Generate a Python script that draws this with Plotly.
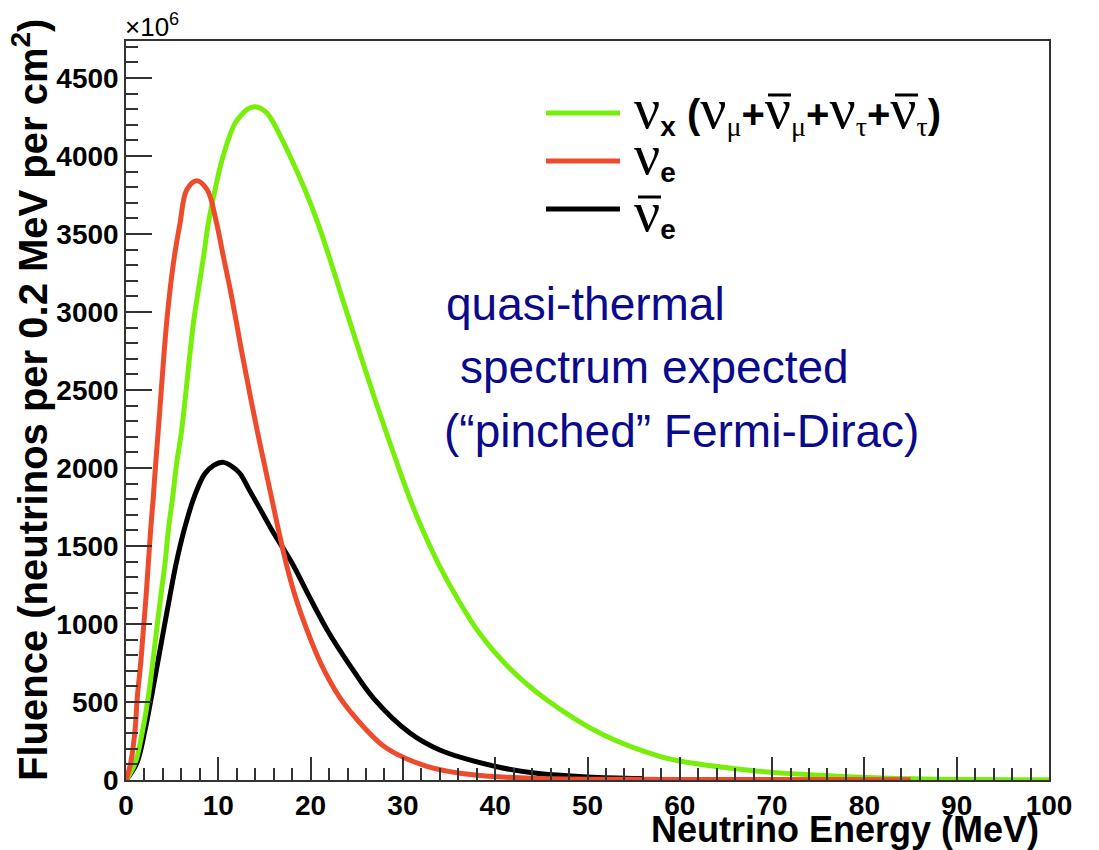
import plotly.graph_objects as go

# Fluence spectra (x10^6 neutrinos per 0.2 MeV per cm^2) versus neutrino energy (MeV)
nux_energy = [0, 0.98, 1.81, 2.42, 2.89, 3.32, 3.76, 4.23, 4.59, 5.06, 5.49, 6.03,
              7.3, 7.84, 8.4, 8.92, 9.64, 10.5, 11.8, 12.5, 13.2, 14.0, 15.2, 16.0,
              17.8, 19.4, 20.8, 22.0, 23.15, 24.3, 27.0, 29.5, 30.8, 32.3, 34.0,
              36.0, 38.3, 41.4, 45.6, 51.7, 57.9, 60.0, 68.0, 74.0, 78.8, 85.0,
              92.0, 100.0]
nux_fluence = [0, 107, 321, 534, 748, 962, 1175, 1389, 1603, 1816, 2030, 2244,
               2927, 3141, 3355, 3568, 3782, 3995, 4209, 4263, 4302, 4316, 4280, 4209,
               3995, 3782, 3568, 3355, 3141, 2927, 2436, 2008, 1795, 1581, 1368,
               1154, 940, 726, 513, 290, 150, 122, 60, 34, 20, 8,
               3, 1]

nue_energy = [0, 0.5, 0.98, 1.23, 1.59, 1.88, 2.17, 2.42, 2.67, 2.96, 3.22, 3.5,
              4.15, 4.4, 4.77, 5.24, 5.85, 6.57, 7.66, 8.81, 9.82, 10.55, 11.3,
              11.98, 12.5, 14.2, 15.75, 16.52, 17.35, 18.35, 19.6, 21.1, 23.1, 24.5,
              25.9, 28.2, 32.6, 37.6, 45.0, 60.0, 85.0]
nue_fluence = [0, 107, 321, 534, 748, 962, 1175, 1389, 1603, 1816, 2030, 2244,
               2756, 2929, 3141, 3355, 3568, 3782, 3842, 3782, 3568, 3355, 3141,
               2927, 2756, 2244, 1816, 1603, 1389, 1175, 962, 748, 534, 425,
               330, 205, 88, 33, 10, 4, 1]

anue_energy = [0, 1.16, 2.06, 2.76, 3.42, 4.08, 4.74, 5.44, 6.3, 7.4, 8.5, 9.5,
               10.55, 11.6, 12.35, 13.4, 14.6, 15.8, 18.0, 19.86, 21.8, 24.2, 26.8,
               30.8, 34.0, 40.2, 44.5, 50.0, 56.0]
anue_fluence = [0, 107, 321, 534, 748, 962, 1175, 1389, 1603, 1816, 1960, 2017,
                2036, 2005, 1965, 1855, 1730, 1603, 1389, 1175, 962, 740, 525,
                299, 192, 85, 43, 20, 10]

x_range = [0, 100]
y_range = [0, 4737]

GREEN = "#78EE0C"
RED = "#EE4A2C"
BLACK = "#000000"
AXIS = "#333333"
NAVY = "#0A0A8C"
SANS = "Liberation Sans, Arial, Helvetica, sans-serif"

# plot-area geometry (pixels)
W, H = 1099, 850
L, R, T, B = 126, 50, 41, 70
PW, PH = W - L - R, H - T - B


def px(x):
    return (x - L) / PW


def py(y):
    return (H - B - y) / PH


fig = go.Figure()
for e, f, c in [(anue_energy, anue_fluence, BLACK),
                (nux_energy, nux_fluence, GREEN),
                (nue_energy, nue_fluence, RED)]:
    fig.add_trace(go.Scatter(x=e, y=f, mode="lines",
                             line=dict(color=c, width=5, shape="spline", smoothing=1.0),
                             showlegend=False, hoverinfo="skip"))

fig.update_layout(
    width=W, height=H,
    margin=dict(l=L, r=R, t=T, b=B, pad=0),
    paper_bgcolor="white", plot_bgcolor="white",
    font=dict(family=SANS, color="black"),
)

fig.update_xaxes(
    range=x_range, showgrid=False, zeroline=False,
    showline=True, linecolor=AXIS, linewidth=1.5, mirror=True,
    ticks="inside", ticklen=23, tickwidth=1.5, tickcolor=AXIS,
    tick0=0, dtick=10,
    tickfont=dict(family=SANS, size=28, color="black", weight="bold"),
    minor=dict(ticks="inside", ticklen=12, tickwidth=1.5, tickcolor=AXIS, dtick=2),
)
fig.update_yaxes(
    range=y_range, showgrid=False, zeroline=False,
    showline=True, linecolor=AXIS, linewidth=1.5, mirror=True,
    ticks="inside", ticklen=26, tickwidth=1.5, tickcolor=AXIS,
    tick0=0, dtick=500,
    tickfont=dict(family=SANS, size=28, color="black", weight="bold"),
    minor=dict(ticks="inside", ticklen=12, tickwidth=1.5, tickcolor=AXIS, dtick=100),
)

ann = []
# axis titles
ann.append(dict(text="Neutrino Energy (MeV)", xref="paper", yref="paper",
                x=px(1041), y=py(829), xanchor="right", yanchor="middle",
                showarrow=False, font=dict(family=SANS, size=36, weight="bold")))
ann.append(dict(text="Fluence (neutrinos per 0.2 MeV per cm<sup>2</sup>)",
                xref="paper", yref="paper", x=px(30), y=py(400),
                xanchor="center", yanchor="middle", textangle=-90,
                showarrow=False, font=dict(family=SANS, size=40, weight="bold")))
ann.append(dict(text="×10<sup>6</sup>", xref="paper", yref="paper",
                x=px(123), y=py(26), xanchor="left", yanchor="middle",
                showarrow=False, font=dict(family=SANS, size=26)))

# legend: sample line, label, and the bars over the antineutrino symbols
SERIF_SPAN = "font-family:Liberation Serif, Times New Roman, serif;font-weight:normal"
NU = f'<span style="{SERIF_SPAN};font-size:58px">ν</span>'
MU = f'<sub><span style="{SERIF_SPAN}">μ</span></sub>'
TAU = f'<sub><span style="{SERIF_SPAN}">τ</span></sub>'
# (colour, label, sample-line y, label centre y, bar y, bar spans)
legend_rows = [
    (GREEN, NU + "<sub>x</sub> (" + NU + MU + "+" + NU + MU + "+" + NU + TAU + "+" + NU + TAU + ")",
     113, 109, 95, [(768, 791), (895, 918)]),
    (RED, NU + "<sub>e</sub>", 161, 155, None, []),
    (BLACK, NU + "<sub>e</sub>", 209, 212, 197, [(638, 661)]),
]
shapes = []
for color, label, yline, ytext, ybar, bars in legend_rows:
    shapes.append(dict(type="line", xref="paper", yref="paper",
                       x0=px(546), x1=px(620), y0=py(yline), y1=py(yline),
                       line=dict(color=color, width=5)))
    ann.append(dict(text=label, xref="paper", yref="paper",
                    x=px(632), y=py(ytext), xanchor="left", yanchor="middle",
                    showarrow=False, font=dict(family=SANS, size=40, weight="bold")))
    for x0, x1 in bars:
        shapes.append(dict(type="line", xref="paper", yref="paper",
                           x0=px(x0), x1=px(x1), y0=py(ybar), y1=py(ybar),
                           line=dict(color="black", width=3)))

# note
for txt, x0, yy in [("quasi-thermal", 444, 304),
                    ("spectrum expected", 458, 367),
                    ("(“pinched” Fermi-Dirac)", 442, 431)]:
    ann.append(dict(text=txt, xref="paper", yref="paper", x=px(x0), y=py(yy),
                    xanchor="left", yanchor="middle", showarrow=False,
                    font=dict(family=SANS, size=46, color=NAVY)))

fig.update_layout(annotations=ann, shapes=shapes)
fig.write_html("out.html")
